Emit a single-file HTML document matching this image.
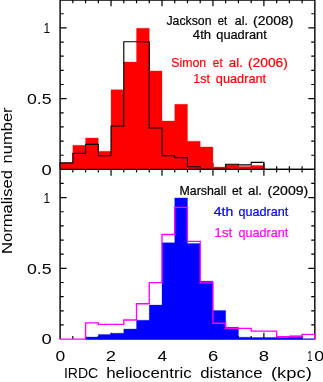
<!DOCTYPE html>
<html><head><meta charset="utf-8"><style>
html,body{margin:0;padding:0;background:#fff;}
body{width:323px;height:382px;overflow:hidden;position:relative;}
svg{position:absolute;left:0;top:0;will-change:transform;}
text{font-family:"Liberation Sans",sans-serif;stroke-width:0.2px;}
</style></head><body>
<svg width="323" height="382" viewBox="0 0 323 382">
<rect width="323" height="382" fill="#fff"/>
<path d="M59.4,0.05H315.55 M60.1,169.4H314.85 M60.1,0V169.4 M314.85,0V169.4" stroke="#000" stroke-width="1.4" fill="none"/>
<path d="M72.84,0v3.2 M72.84,169.4v-3.2 M85.58,0v3.2 M85.58,169.4v-3.2 M98.31,0v3.2 M98.31,169.4v-3.2 M111.05,0v6.3 M111.05,169.4v-6.3 M123.79,0v3.2 M123.79,169.4v-3.2 M136.53,0v3.2 M136.53,169.4v-3.2 M149.26,0v3.2 M149.26,169.4v-3.2 M162.0,0v6.3 M162.0,169.4v-6.3 M174.74,0v3.2 M174.74,169.4v-3.2 M187.47,0v3.2 M187.47,169.4v-3.2 M200.21,0v3.2 M200.21,169.4v-3.2 M212.95,0v6.3 M212.95,169.4v-6.3 M225.69,0v3.2 M225.69,169.4v-3.2 M238.43,0v3.2 M238.43,169.4v-3.2 M251.16,0v3.2 M251.16,169.4v-3.2 M263.9,0v6.3 M263.9,169.4v-6.3 M276.64,0v3.2 M276.64,169.4v-3.2 M289.38,0v3.2 M289.38,169.4v-3.2 M302.11,0v3.2 M302.11,169.4v-3.2 M60.1,155.25h3.6 M314.85,155.25h-3.6 M60.1,141.1h3.6 M314.85,141.1h-3.6 M60.1,126.95h3.6 M314.85,126.95h-3.6 M60.1,112.8h3.6 M314.85,112.8h-3.6 M60.1,98.65h6.5 M314.85,98.65h-6.5 M60.1,84.5h3.6 M314.85,84.5h-3.6 M60.1,70.35h3.6 M314.85,70.35h-3.6 M60.1,56.2h3.6 M314.85,56.2h-3.6 M60.1,42.05h3.6 M314.85,42.05h-3.6 M60.1,27.9h6.5 M314.85,27.9h-6.5 M60.1,13.75h3.6 M314.85,13.75h-3.6" stroke="#000" stroke-width="1.2" fill="none"/>
<polygon points="60.1,169.4 60.1,163.0 72.84,163.0 72.84,145.3 85.58,145.3 85.58,137.9 98.31,137.9 98.31,151.2 111.05,151.2 111.05,89.7 123.79,89.7 123.79,62 136.53,62 136.53,28.2 149.26,28.2 149.26,70.9 162.0,70.9 162.0,121.0 174.74,121.0 174.74,104.3 187.47,104.3 187.47,141.2 200.21,141.2 200.21,146.9 212.95,146.9 212.95,167 225.69,167 225.69,164.7 238.43,164.7 238.43,166.4 251.16,166.4 251.16,165.4 263.9,165.4 263.9,169.4" fill="#ff0000" stroke="#ff0000" stroke-width="0.3"/>
<polyline points="60.1,169.4 60.1,162.9 72.84,162.9 72.84,153.3 85.58,153.3 85.58,144.4 98.31,144.4 98.31,155.7 111.05,155.7 111.05,126 123.79,126 123.79,41.7 136.53,41.7 136.53,41.7 149.26,41.7 149.26,128 162.0,128 162.0,155.6 174.74,155.6 174.74,157.6 187.47,157.6 187.47,166.7 200.21,166.7 200.21,169.4 212.95,169.4 212.95,169.4 225.69,169.4 225.69,164.2 238.43,164.2 238.43,164.9 251.16,164.9 251.16,162.4 263.9,162.4 263.9,169.4" fill="none" stroke="#000" stroke-width="1.15"/>
<path d="M60.1,169.4H314.85 M60.1,169.4V339.1 M314.85,169.4V339.1" stroke="#000" stroke-width="1.4" fill="none"/>
<path d="M72.84,169.4v3.2 M72.84,339.1v-3.2 M85.58,169.4v3.2 M85.58,339.1v-3.2 M98.31,169.4v3.2 M98.31,339.1v-3.2 M111.05,169.4v6.3 M111.05,339.1v-6.3 M123.79,169.4v3.2 M123.79,339.1v-3.2 M136.53,169.4v3.2 M136.53,339.1v-3.2 M149.26,169.4v3.2 M149.26,339.1v-3.2 M162.0,169.4v6.3 M162.0,339.1v-6.3 M174.74,169.4v3.2 M174.74,339.1v-3.2 M187.47,169.4v3.2 M187.47,339.1v-3.2 M200.21,169.4v3.2 M200.21,339.1v-3.2 M212.95,169.4v6.3 M212.95,339.1v-6.3 M225.69,169.4v3.2 M225.69,339.1v-3.2 M238.43,169.4v3.2 M238.43,339.1v-3.2 M251.16,169.4v3.2 M251.16,339.1v-3.2 M263.9,169.4v6.3 M263.9,339.1v-6.3 M276.64,169.4v3.2 M276.64,339.1v-3.2 M289.38,169.4v3.2 M289.38,339.1v-3.2 M302.11,169.4v3.2 M302.11,339.1v-3.2 M60.1,324.95h3.6 M314.85,324.95h-3.6 M60.1,310.8h3.6 M314.85,310.8h-3.6 M60.1,296.65h3.6 M314.85,296.65h-3.6 M60.1,282.5h3.6 M314.85,282.5h-3.6 M60.1,268.35h6.5 M314.85,268.35h-6.5 M60.1,254.2h3.6 M314.85,254.2h-3.6 M60.1,240.05h3.6 M314.85,240.05h-3.6 M60.1,225.9h3.6 M314.85,225.9h-3.6 M60.1,211.75h3.6 M314.85,211.75h-3.6 M60.1,197.6h6.5 M314.85,197.6h-6.5 M60.1,183.45h3.6 M314.85,183.45h-3.6" stroke="#000" stroke-width="1.2" fill="none"/>
<polygon points="85.58,339.1 85.58,337 98.31,337 98.31,334.6 111.05,334.6 111.05,333.2 123.79,333.2 123.79,329 136.53,329 136.53,320.2 149.26,320.2 149.26,305.1 162.0,305.1 162.0,242.7 174.74,242.7 174.74,197.9 187.47,197.9 187.47,243.4 200.21,243.4 200.21,281.2 212.95,281.2 212.95,310.6 225.69,310.6 225.69,327.3 238.43,327.3 238.43,337.2 251.16,337.2 251.16,337.6 263.9,337.6 263.9,337.6 276.64,337.6 276.64,337.6 289.38,337.6 289.38,335.7 302.11,335.7 302.11,339.1" fill="#0000ff" stroke="#0000ff" stroke-width="0.3"/>
<path d="M85.58,339.1H314.85" stroke="#0000ff" stroke-width="1.4" fill="none"/>
<polyline points="60.1,339.1 60.1,339.1 72.84,339.1 72.84,339.1 85.58,339.1 85.58,322.9 98.31,322.9 98.31,324.4 111.05,324.4 111.05,324.4 123.79,324.4 123.79,320 136.53,320 136.53,303.7 149.26,303.7 149.26,282.6 162.0,282.6 162.0,234.5 174.74,234.5 174.74,207.3 187.47,207.3 187.47,241.4 200.21,241.4 200.21,282.8 212.95,282.8 212.95,323.2 225.69,323.2 225.69,328.3 238.43,328.3 238.43,328.3 251.16,328.3 251.16,331.1 263.9,331.1 263.9,331.1 276.64,331.1 276.64,336.7 289.38,336.7 289.38,336.7 302.11,336.7 302.11,334.4 314.85,334.4 314.85,339.1" fill="none" stroke="#ff00ff" stroke-width="1.35" stroke-linecap="square"/>
<text x="166.47" y="24.50" font-size="12.2px" fill="#000" stroke="#000" textLength="45.03" lengthAdjust="spacingAndGlyphs">Jackson</text>
<text x="217.65" y="24.50" font-size="12.2px" fill="#000" stroke="#000" textLength="9.44" lengthAdjust="spacingAndGlyphs">et</text>
<text x="234.84" y="24.50" font-size="12.2px" fill="#000" stroke="#000" textLength="13.09" lengthAdjust="spacingAndGlyphs">al.</text>
<text x="253.14" y="24.50" font-size="12.2px" fill="#000" stroke="#000" textLength="40.16" lengthAdjust="spacingAndGlyphs">(2008)</text>
<text x="192.88" y="39.00" font-size="12.2px" fill="#000" stroke="#000" textLength="18.19" lengthAdjust="spacingAndGlyphs">4th</text>
<text x="216.27" y="39.00" font-size="12.2px" fill="#000" stroke="#000" textLength="50.49" lengthAdjust="spacingAndGlyphs">quadrant</text>
<text x="171.36" y="67.00" font-size="12.2px" fill="#ff0000" stroke="#ff0000" textLength="34.75" lengthAdjust="spacingAndGlyphs">Simon</text>
<text x="212.86" y="67.00" font-size="12.2px" fill="#ff0000" stroke="#ff0000" textLength="9.79" lengthAdjust="spacingAndGlyphs">et</text>
<text x="228.79" y="67.00" font-size="12.2px" fill="#ff0000" stroke="#ff0000" textLength="14.08" lengthAdjust="spacingAndGlyphs">al.</text>
<text x="248.01" y="67.00" font-size="12.2px" fill="#ff0000" stroke="#ff0000" textLength="39.84" lengthAdjust="spacingAndGlyphs">(2006)</text>
<text x="193.19" y="82.50" font-size="12.2px" fill="#ff0000" stroke="#ff0000" textLength="16.70" lengthAdjust="spacingAndGlyphs">1st</text>
<text x="215.86" y="82.50" font-size="12.2px" fill="#ff0000" stroke="#ff0000" textLength="50.26" lengthAdjust="spacingAndGlyphs">quadrant</text>
<text x="179.47" y="194.50" font-size="12.2px" fill="#000" stroke="#000" textLength="46.69" lengthAdjust="spacingAndGlyphs">Marshall</text>
<text x="231.97" y="194.50" font-size="12.2px" fill="#000" stroke="#000" textLength="10.07" lengthAdjust="spacingAndGlyphs">et</text>
<text x="248.04" y="194.50" font-size="12.2px" fill="#000" stroke="#000" textLength="13.98" lengthAdjust="spacingAndGlyphs">al.</text>
<text x="267.61" y="194.50" font-size="12.2px" fill="#000" stroke="#000" textLength="40.68" lengthAdjust="spacingAndGlyphs">(2009)</text>
<text x="213.73" y="215.50" font-size="12.2px" fill="#0000ff" stroke="#0000ff" textLength="19.56" lengthAdjust="spacingAndGlyphs">4th</text>
<text x="238.48" y="215.50" font-size="12.2px" fill="#0000ff" stroke="#0000ff" textLength="49.67" lengthAdjust="spacingAndGlyphs">quadrant</text>
<text x="214.21" y="236.50" font-size="12.2px" fill="#ff00ff" stroke="#ff00ff" textLength="18.17" lengthAdjust="spacingAndGlyphs">1st</text>
<text x="238.48" y="236.50" font-size="12.2px" fill="#ff00ff" stroke="#ff00ff" textLength="49.67" lengthAdjust="spacingAndGlyphs">quadrant</text>
<text x="63.90" y="377.90" font-size="14.3px" fill="#000" stroke="none" textLength="34.38" lengthAdjust="spacingAndGlyphs">IRDC</text>
<text x="106.21" y="377.90" font-size="14.3px" fill="#000" stroke="none" textLength="85.59" lengthAdjust="spacingAndGlyphs">heliocentric</text>
<text x="200.17" y="377.90" font-size="14.3px" fill="#000" stroke="none" textLength="62.43" lengthAdjust="spacingAndGlyphs">distance</text>
<text x="271.03" y="377.90" font-size="14.3px" fill="#000" stroke="none" textLength="40.76" lengthAdjust="spacingAndGlyphs">(kpc)</text>
<text x="43.38" y="32.90" font-size="15.3px" fill="#000" stroke="none" textLength="6.62" lengthAdjust="spacingAndGlyphs">1</text>
<text x="26.95" y="103.90" font-size="15.3px" fill="#000" stroke="none" textLength="24.57" lengthAdjust="spacingAndGlyphs">0.5</text>
<text x="41.48" y="174.60" font-size="15.3px" fill="#000" stroke="none" textLength="10.20" lengthAdjust="spacingAndGlyphs">0</text>
<text x="43.38" y="202.70" font-size="15.3px" fill="#000" stroke="none" textLength="6.62" lengthAdjust="spacingAndGlyphs">1</text>
<text x="26.95" y="273.50" font-size="15.3px" fill="#000" stroke="none" textLength="24.57" lengthAdjust="spacingAndGlyphs">0.5</text>
<text x="41.48" y="344.30" font-size="15.3px" fill="#000" stroke="none" textLength="10.20" lengthAdjust="spacingAndGlyphs">0</text>
<text x="55.48" y="361.00" font-size="15.3px" fill="#000" stroke="none" textLength="9.72" lengthAdjust="spacingAndGlyphs">0</text>
<text x="105.89" y="361.00" font-size="15.3px" fill="#000" stroke="none" textLength="10.22" lengthAdjust="spacingAndGlyphs">2</text>
<text x="157.49" y="361.00" font-size="15.3px" fill="#000" stroke="none" textLength="9.62" lengthAdjust="spacingAndGlyphs">4</text>
<text x="208.09" y="361.00" font-size="15.3px" fill="#000" stroke="none" textLength="10.30" lengthAdjust="spacingAndGlyphs">6</text>
<text x="258.75" y="361.00" font-size="15.3px" fill="#000" stroke="none" textLength="10.32" lengthAdjust="spacingAndGlyphs">8</text>
<text x="307.17" y="361.00" font-size="15.3px" fill="#000" stroke="none" textLength="5.22" lengthAdjust="spacingAndGlyphs">1</text>
<text x="314.19" y="361.00" font-size="15.3px" fill="#000" stroke="none" textLength="9.90" lengthAdjust="spacingAndGlyphs">0</text>
<text transform="translate(11.70,254.12) rotate(-90)" font-size="14.3px" fill="#000" textLength="84.09" lengthAdjust="spacingAndGlyphs">Normalised</text>
<text transform="translate(11.70,163.42) rotate(-90)" font-size="14.3px" fill="#000" textLength="56.00" lengthAdjust="spacingAndGlyphs">number</text>
</svg>
</body></html>
